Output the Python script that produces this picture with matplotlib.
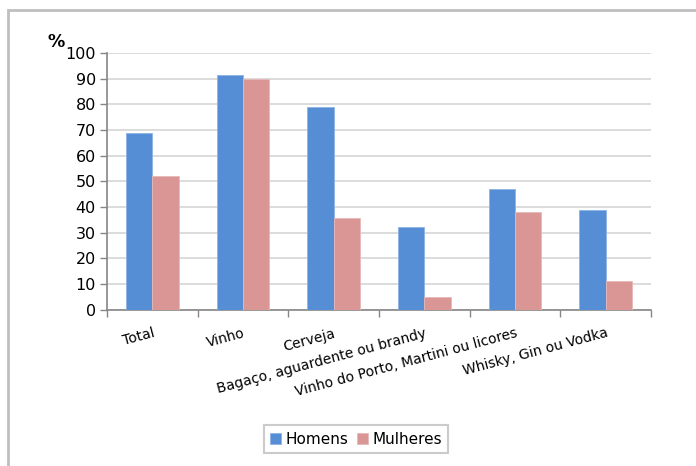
import matplotlib.pyplot as plt
import numpy as np
from matplotlib.patches import Rectangle

plt.rcParams['font.family'] = ['DejaVu Sans']

# dados
categorias = ['Total', 'Vinho', 'Cerveja', 'Bagaço, aguardente ou brandy',
              'Vinho do Porto, Martini ou licores', 'Whisky, Gin ou Vodka']
homens = [69, 91.5, 79, 32, 47, 38.8]
mulheres = [52, 90, 35.5, 5, 38.2, 11]
yticks = [0, 10, 20, 30, 40, 50, 60, 70, 80, 90, 100]

cor_h = '#558ED5'
cor_m = '#D99694'

fig = plt.figure(figsize=(6.96, 4.66), dpi=100)

# moldura exterior (cortada à direita e em baixo)
fig.patches.append(Rectangle((8 / 696, -0.05), 1.2, (466 - 10) / 466 + 0.05,
                             transform=fig.transFigure, fill=False,
                             edgecolor='#BFBFBF', linewidth=2))

ax = fig.add_axes([107 / 696, 1 - 309.5 / 466, (651 - 107) / 696, (309.5 - 53) / 466])

x = np.arange(len(categorias))
w = 0.29
ax.bar(x - w / 2, homens, w, color=cor_h, edgecolor='#8DB3E2', linewidth=0.6, label='Homens', zorder=3)
ax.bar(x + w / 2, mulheres, w, color=cor_m, edgecolor='#E6B9B8', linewidth=0.6, label='Mulheres', zorder=3)

ax.set_xlim(-0.5, len(categorias) - 0.5)
ax.set_ylim(0, 100)
ax.set_yticks(yticks)
ax.set_yticklabels([str(v) for v in yticks], fontsize=11.5)
ax.yaxis.grid(True, color='#D9D9D9', linewidth=1.3, zorder=0)

ax.set_xticks(x)
ax.set_xticklabels(categorias, rotation=15, ha='right', va='top',
                   rotation_mode='anchor', fontsize=10)
ax.set_xticks(np.arange(-0.5, len(categorias)), minor=True)
ax.tick_params(axis='x', which='major', length=0, pad=12)
ax.tick_params(axis='x', which='minor', length=5, color='#868686', width=1)
ax.tick_params(axis='y', length=5, color='#868686', width=1, pad=3)

for s in ['top', 'right']:
    ax.spines[s].set_visible(False)
for s in ['left', 'bottom']:
    ax.spines[s].set_color('#868686')
    ax.spines[s].set_linewidth(1.2)

fig.text(47 / 696, 1 - 47 / 466, '%', fontsize=12.5, fontweight='bold')

leg = ax.legend(loc='center', bbox_to_anchor=(356 / 696, 1 - 439 / 466),
                bbox_transform=fig.transFigure, ncol=2, fontsize=11,
                frameon=True, fancybox=False, edgecolor='#BFBFBF',
                handlelength=0.7, handleheight=0.7, handletextpad=0.3,
                columnspacing=0.6, borderpad=0.4)
leg.get_frame().set_linewidth(1.5)

plt.savefig('out.png', dpi=100)
